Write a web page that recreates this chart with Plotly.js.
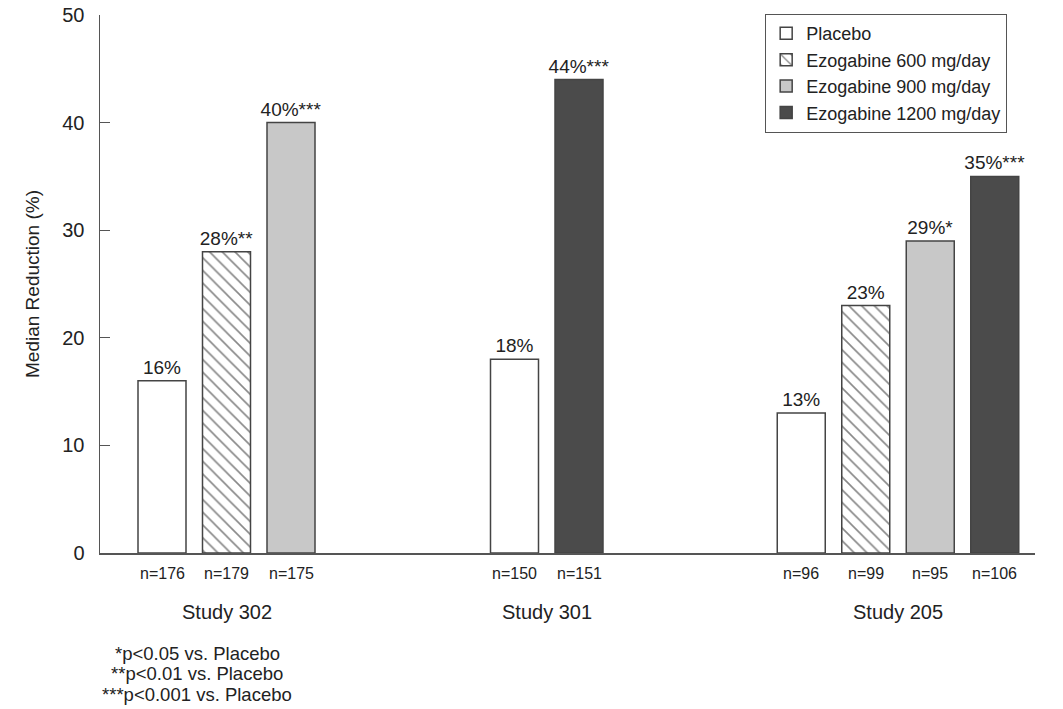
<!DOCTYPE html>
<html>
<head>
<meta charset="utf-8">
<script src="https://cdn.plot.ly/plotly-3.0.1.min.js"></script>
<style>html,body{margin:0;padding:0;background:#fff;}#chart{width:1063px;height:709px;}</style>
</head>
<body>
<div id="chart"></div>
<script>
// ---- data ----
const studies = ['Study 302', 'Study 301', 'Study 205'];
const treatments = ['Placebo', 'Ezogabine 600 mg/day', 'Ezogabine 900 mg/day', 'Ezogabine 1200 mg/day'];
const placeboPct = [16, 18, 13];
const ez600Pct   = [28, null, 23];
const ez900Pct   = [40, null, 29];
const ez1200Pct  = [null, 44, 35];
const placeboSig = ['', '', ''];
const ez600Sig   = ['**', null, ''];
const ez900Sig   = ['***', null, '*'];
const ez1200Sig  = [null, '***', '***'];
const placeboN = [176, 150, 96];
const ez600N   = [179, null, 99];
const ez900N   = [175, null, 95];
const ez1200N  = [null, 151, 106];
const footnotes = ['*p&lt;0.05 vs. Placebo', '**p&lt;0.01 vs. Placebo', '***p&lt;0.001 vs. Placebo'];
const yTicks = [0, 10, 20, 30, 40, 50];

// ---- layout constants ----
const FONT = 'Liberation Sans, Arial, Helvetica, sans-serif';
const TXT = '#222';
const EDGE = '#444';
const groupCenters = [226.5, 546.75, 898];
const step = 64.5;
const barWidth = 48;

const pctSeries = [placeboPct, ez600Pct, ez900Pct, ez1200Pct];
const sigSeries = [placeboSig, ez600Sig, ez900Sig, ez1200Sig];
const nSeries = [placeboN, ez600N, ez900N, ez1200N];
const fills = ['#ffffff', '#ffffff', '#c8c8c8', '#4b4b4b'];

// compute bar positions per study
const pos = treatments.map(() => studies.map(() => null));
studies.forEach((s, si) => {
  const present = [];
  pctSeries.forEach((ser, ti) => { if (ser[si] !== null) present.push(ti); });
  const m = present.length;
  present.forEach((ti, k) => { pos[ti][si] = groupCenters[si] + (k - (m - 1) / 2) * step; });
});

const traces = treatments.map((t, ti) => {
  const xs = [], ys = [], txt = [];
  studies.forEach((s, si) => {
    if (pctSeries[ti][si] !== null) {
      xs.push(pos[ti][si]);
      ys.push(pctSeries[ti][si]);
      txt.push(pctSeries[ti][si] + '%' + (sigSeries[ti][si] || ''));
    }
  });
  const marker = { color: fills[ti], line: { color: EDGE, width: 1.5 } };
  if (ti === 1) {
    marker.pattern = { shape: '\\', fgcolor: '#111', bgcolor: '#ffffff', size: 9, solidity: 0.18, fillmode: 'overlay' };
  }
  return {
    type: 'bar', name: t, x: xs, y: ys, width: barWidth,
    marker: marker,
    text: txt, textposition: 'outside', constraintext: 'none', cliponaxis: false,
    textfont: { family: FONT, size: 19, color: TXT },
    hoverinfo: 'skip'
  };
});

const annotations = [];
treatments.forEach((t, ti) => {
  studies.forEach((s, si) => {
    if (nSeries[ti][si] !== null) {
      annotations.push({
        x: pos[ti][si], xref: 'x', y: 0, yref: 'paper', yanchor: 'middle', yshift: -20,
        text: 'n=' + nSeries[ti][si], showarrow: false,
        font: { family: FONT, size: 16, color: TXT }
      });
    }
  });
});
studies.forEach((s, si) => {
  annotations.push({
    x: groupCenters[si], xref: 'x', y: 0, yref: 'paper', yanchor: 'middle', yshift: -59,
    text: s, showarrow: false, font: { family: FONT, size: 20, color: TXT }
  });
});
footnotes.forEach((f, i) => {
  annotations.push({
    x: 197, xref: 'x', y: 0, yref: 'paper', yanchor: 'middle', yshift: -100 - i * 20.5,
    text: f, showarrow: false, font: { family: FONT, size: 18.5, color: TXT }
  });
});

const layout = {
  width: 1063, height: 709,
  margin: { l: 100, r: 28, t: 15, b: 156, pad: 0 },
  paper_bgcolor: '#fff', plot_bgcolor: '#fff',
  font: { family: FONT, color: TXT },
  showlegend: true,
  barmode: 'overlay',
  legend: {
    x: 0.7112, xanchor: 'left', y: 1.002, yanchor: 'top',
    bgcolor: '#fff', bordercolor: '#555', borderwidth: 1.2,
    font: { family: FONT, size: 18, color: TXT },
    tracegroupgap: 0, traceorder: 'normal'
  },
  xaxis: {
    range: [100, 1035], showline: true, linecolor: '#555', linewidth: 1.5,
    showticklabels: false, ticks: '', showgrid: false, zeroline: false, fixedrange: true
  },
  yaxis: {
    range: [0, 50], tickvals: yTicks, ticktext: yTicks.map(String),
    ticks: 'inside', ticklen: 10, tickwidth: 1.2, tickcolor: '#555',
    showline: true, linecolor: '#555', linewidth: 1.5,
    showgrid: false, zeroline: false, ticklabelstandoff: 10,
    tickfont: { family: FONT, size: 20, color: TXT },
    title: { text: 'Median Reduction (%)', font: { family: FONT, size: 19, color: TXT }, standoff: 17 }
  },
  annotations: annotations
};

Plotly.newPlot('chart', traces, layout, { displayModeBar: false, staticPlot: true });
</script>
</body>
</html>
